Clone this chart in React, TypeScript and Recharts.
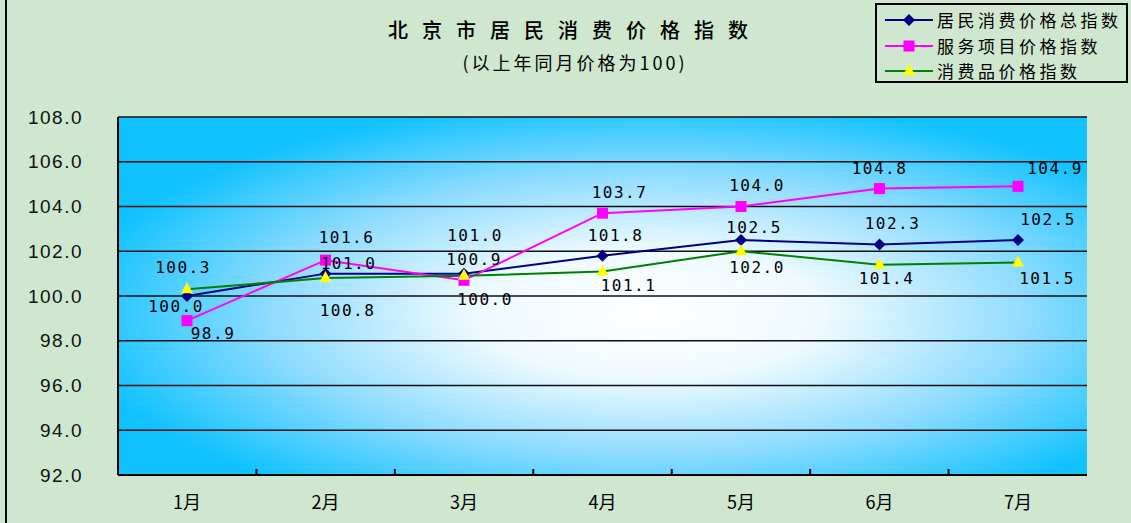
import React from 'react';
import { LineChart, Line, XAxis, YAxis, CartesianGrid } from 'recharts';

const months = ['1月', '2月', '3月', '4月', '5月', '6月', '7月'];
const totalIndex = [100.0, 101.0, 101.0, 101.8, 102.5, 102.3, 102.5];
const serviceIndex = [98.9, 101.6, 100.7, 103.7, 104.0, 104.8, 104.9];
const goodsIndex = [100.3, 100.8, 100.9, 101.1, 102.0, 101.4, 101.5];
const totalLabels = ['100.0', '101.0', '101.0', '101.8', '102.5', '102.3', '102.5'];
const serviceLabels = ['98.9', '101.6', '100.0', '103.7', '104.0', '104.8', '104.9'];
const goodsLabels = ['100.3', '100.8', '100.9', '101.1', '102.0', '101.4', '101.5'];
const yTicks = [92, 94, 96, 98, 100, 102, 104, 106, 108];
const boundaryTicks = [0.5, 1.5, 2.5, 3.5, 4.5, 5.5];

const seriesNames = ['居民消费价格总指数', '服务项目价格指数', '消费品价格指数'];

const data = months.map((m, i) => ({
  month: m,
  pos: i,
  total: totalIndex[i],
  service: serviceIndex[i],
  goods: goodsIndex[i],
}));

// label offsets (style only)
const totalOff = [[-11, 10], [23, -10], [11, -38], [13, -20], [13, -13], [13, -21], [30, -21]];
const serviceOff = [[26, 13], [21, -23], [21, 19], [17, -21], [16, -21], [0, -20], [37, -18]];
const goodsOff = [[-4, -22], [22, 32], [10, -16], [26, 14], [16, 16], [7, 14], [29, 16]];

const labelFont = '"DejaVu Sans Mono", monospace';

const makeLabel = (texts: string[], offs: number[][]) => (props: any) => {
  const { x, y, index } = props;
  if (x == null || y == null) return null;
  const o = offs[index] || [0, 0];
  return (
    <text
      key={`lbl-${index}`}
      x={x + o[0]}
      y={y + o[1]}
      textAnchor="middle"
      dominantBaseline="central"
      fontFamily={labelFont}
      fontSize={16}
      letterSpacing={1.5}
      fill="#000"
    >
      {texts[index]}
    </text>
  );
};

const Diamond = (props: any) => {
  const { cx, cy } = props;
  if (cx == null || cy == null) return null;
  return <polygon points={`${cx},${cy - 6} ${cx + 6},${cy} ${cx},${cy + 6} ${cx - 6},${cy}`} fill="#000080" />;
};
const Square = (props: any) => {
  const { cx, cy } = props;
  if (cx == null || cy == null) return null;
  return <rect x={cx - 5.5} y={cy - 5.5} width={11} height={11} fill="#ff00ff" />;
};
const Triangle = (props: any) => {
  const { cx, cy } = props;
  if (cx == null || cy == null) return null;
  return <polygon points={`${cx},${cy - 7} ${cx + 6},${cy + 4} ${cx - 6},${cy + 4}`} fill="#ffff00" />;
};

const EmptyTick = () => <g />;

const legendIcon = (i: number) => {
  const colors = ['#000080', '#ff00ff', '#008000'];
  return (
    <svg width={48} height={14} style={{ display: 'block' }}>
      <line x1={0} y1={7} x2={48} y2={7} stroke={colors[i]} strokeWidth={2} />
      {i === 0 && <polygon points="24,1 30,7 24,13 18,7" fill="#000080" />}
      {i === 1 && <rect x={18.5} y={1.5} width={11} height={11} fill="#ff00ff" />}
      {i === 2 && <polygon points="24,0 30,11 18,11" fill="#ffff00" />}
    </svg>
  );
};

export default function App() {
  return (
    <div
      style={{
        position: 'absolute',
        left: 0,
        top: 0,
        width: 1131,
        height: 523,
        background: '#cfe6cf',
        overflow: 'hidden',
      }}
    >
      <div style={{ position: 'absolute', left: 5, top: 0, width: 2, height: 523, background: '#000' }} />
      <div
        style={{
          position: 'absolute',
          left: 0,
          top: 18,
          width: 1150,
          textAlign: 'center',
          fontFamily: '"Noto Sans CJK SC", sans-serif',
          fontSize: 20,
          fontWeight: 500,
          letterSpacing: 14,
          color: '#000',
          lineHeight: '24px',
        }}
      >
        北京市居民消费价格指数
      </div>
      <div
        style={{
          position: 'absolute',
          left: 0,
          top: 50,
          width: 1150,
          textAlign: 'center',
          fontFamily: '"Noto Sans CJK SC", sans-serif',
          fontSize: 18,
          letterSpacing: 3,
          color: '#000',
          lineHeight: '24px',
        }}
      >
        (以上年同月价格为100)
      </div>
      <LineChart
        width={1131}
        height={523}
        data={data}
        margin={{ top: 117, right: 44, bottom: 0, left: 0 }}
        style={{ position: 'absolute', left: 0, top: 0 }}
      >
        <defs>
          <radialGradient id="plotBg" cx="0.55" cy="0.55" r="0.6">
            <stop offset="0" stopColor="#ffffff" />
            <stop offset="0.3" stopColor="#eefaff" />
            <stop offset="0.65" stopColor="#8fdcff" />
            <stop offset="1" stopColor="#12c2ff" />
          </radialGradient>
        </defs>
        <CartesianGrid
          vertical={false}
          stroke="#111"
          strokeWidth={1.5}
          fill="url(#plotBg)"
          fillOpacity={1}
        />
        <XAxis
          xAxisId="b"
          type="number"
          dataKey="pos"
          domain={[-0.5, 6.5]}
          allowDataOverflow
          ticks={boundaryTicks}
          mirror
          height={1}
          tick={<EmptyTick />}
          tickSize={6}
          axisLine={false}
          tickLine={{ stroke: '#000', strokeWidth: 2 }}
          interval={0}
        />
        <XAxis
          dataKey="month"
          height={48}
          padding={{ left: 69, right: 69 }}
          axisLine={{ stroke: '#000', strokeWidth: 2 }}
          tickLine={false}
          tickMargin={15}
          tick={{ fill: '#000', fontSize: 18, fontFamily: '"Noto Sans CJK SC", sans-serif' }}
          interval={0}
        />
        <YAxis
          width={118}
          domain={[92, 108]}
          ticks={yTicks}
          tickFormatter={(v: number) => v.toFixed(1)}
          axisLine={{ stroke: '#000', strokeWidth: 2 }}
          tickLine={false}
          tickMargin={29}
          tick={{ fill: '#111', fontSize: 19, fontFamily: '"Liberation Sans", sans-serif', letterSpacing: 1.5 }}
          interval={0}
        />
        <Line
          dataKey="total"
          name={seriesNames[0]}
          stroke="#000080"
          strokeWidth={2}
          dot={<Diamond />}
          activeDot={false}
          isAnimationActive={false}
          label={makeLabel(totalLabels, totalOff)}
        />
        <Line
          dataKey="service"
          name={seriesNames[1]}
          stroke="#ff00ff"
          strokeWidth={2}
          dot={<Square />}
          activeDot={false}
          isAnimationActive={false}
          label={makeLabel(serviceLabels, serviceOff)}
        />
        <Line
          dataKey="goods"
          name={seriesNames[2]}
          stroke="#008000"
          strokeWidth={2}
          dot={<Triangle />}
          activeDot={false}
          isAnimationActive={false}
          label={makeLabel(goodsLabels, goodsOff)}
        />
      </LineChart>
      <div
        style={{
          position: 'absolute',
          left: 875,
          top: 3,
          width: 249,
          height: 76,
          border: '2px solid #000',
          background: '#cfe6cf',
          boxSizing: 'content-box',
        }}
      >
        {seriesNames.map((n, i) => (
          <div
            key={n}
            style={{
              position: 'absolute',
              left: 8,
              top: 3 + i * 25.5,
              height: 24,
              display: 'flex',
              alignItems: 'center',
            }}
          >
            {legendIcon(i)}
            <span
              style={{
                marginLeft: 4,
                fontFamily: '"Noto Sans CJK SC", sans-serif',
                fontSize: 17,
                letterSpacing: 3.5,
                color: '#000',
                whiteSpace: 'nowrap',
                lineHeight: '24px',
              }}
            >
              {n}
            </span>
          </div>
        ))}
      </div>
    </div>
  );
}
